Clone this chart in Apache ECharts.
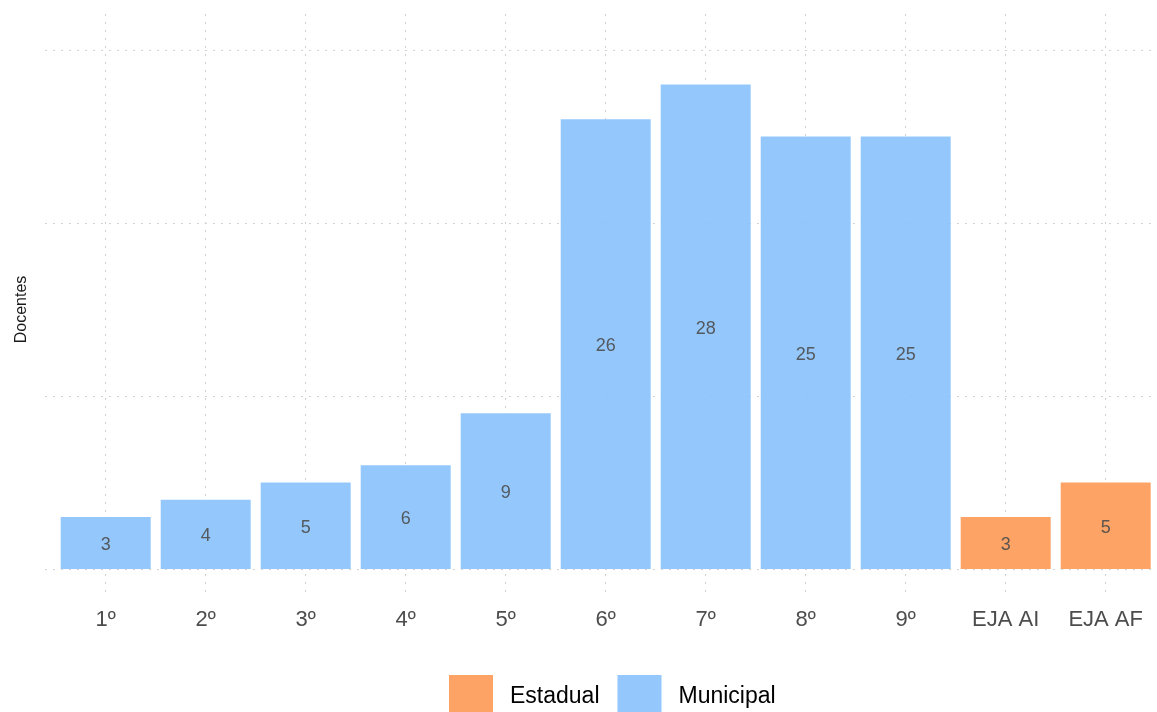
<!DOCTYPE html>
<html>
<head>
<meta charset="utf-8">
<script src="https://cdn.jsdelivr.net/npm/echarts@6/dist/echarts.min.js"></script>
<style>html,body{margin:0;padding:0;background:#fff;}#c{width:1157px;height:712px;}</style>
</head>
<body>
<div id="c"></div>
<script>
const categories = ['1º','2º','3º','4º','5º','6º','7º','8º','9º','EJA AI','EJA AF'];
const estadual  = [null,null,null,null,null,null,null,null,null,3,5];
const municipal = [3,4,5,6,9,26,28,25,25,null,null];
const yTicks = [0,10,20,30];

const FONT = 'Liberation Sans, Arial, sans-serif';
const gridLine = {show:true, lineStyle:{color:'#d4d4d4', width:1.2, type:[2,6]}};
const labelCfg = {show:true, position:'inside', offset:[0,2], color:'#4d4d4d', fontSize:18, fontFamily:FONT,
  formatter: p => (p.value == null ? '' : p.value)};

const chart = echarts.init(document.getElementById('c'), null, {renderer:'canvas'});
chart.setOption({
  backgroundColor:'#fff',
  animation:false,
  grid:[
    {left:55.7, right:1.3, top:50, bottom:143},
    {left:45, right:0, top:50, bottom:143},
    {left:105.7, right:51.3, top:14, bottom:117}
  ],
  legend:{
    data:['Estadual','Municipal'], left:444, top:670, icon:'rect',
    itemWidth:44, itemHeight:44, itemGap:18,
    textStyle:{fontSize:23, color:'#000', fontFamily:FONT, padding:[0,0,0,12]}
  },
  xAxis:[
    {gridIndex:0, type:'category', data:categories, axisLine:{show:false}, axisTick:{show:false},
     splitLine:{show:false},
     axisLabel:{fontSize:22, color:'#4d4d4d', fontFamily:FONT, margin:40, interval:0}},
    {gridIndex:1, type:'value', min:0, max:1, axisLine:{show:false}, axisTick:{show:false},
     axisLabel:{show:false}, splitLine:{show:false}},
    {gridIndex:2, type:'category', data:categories, boundaryGap:false, axisLine:{show:false},
     axisTick:{show:false}, axisLabel:{show:false}, splitLine:Object.assign({interval:0}, gridLine)}
  ],
  yAxis:[
    {gridIndex:0, type:'value', min:yTicks[0], max:yTicks[yTicks.length-1], interval:10,
     axisLine:{show:false}, axisTick:{show:false}, axisLabel:{show:false}, splitLine:{show:false}},
    {gridIndex:1, type:'value', min:yTicks[0], max:yTicks[yTicks.length-1], interval:10,
     axisLine:{show:false}, axisTick:{show:false}, axisLabel:{show:false}, splitLine:gridLine,
     name:'Docentes', nameLocation:'middle', nameRotate:90, nameGap:15,
     nameTextStyle:{fontSize:16, color:'#1a1a1a', fontFamily:FONT}},
    {gridIndex:2, type:'value', min:0, max:1, axisLine:{show:false}, axisTick:{show:false},
     axisLabel:{show:false}, splitLine:{show:false}}
  ],
  series:[
    {name:'Estadual', type:'bar', xAxisIndex:0, yAxisIndex:0, stack:'s', data:estadual,
     barWidth:'90%', itemStyle:{color:'#FD9955', opacity:0.9}, label:labelCfg, z:5},
    {name:'Municipal', type:'bar', xAxisIndex:0, yAxisIndex:0, stack:'s', data:municipal,
     barWidth:'90%', itemStyle:{color:'#88C2FD', opacity:0.9}, label:labelCfg, z:5}
  ]
});
</script>
</body>
</html>
